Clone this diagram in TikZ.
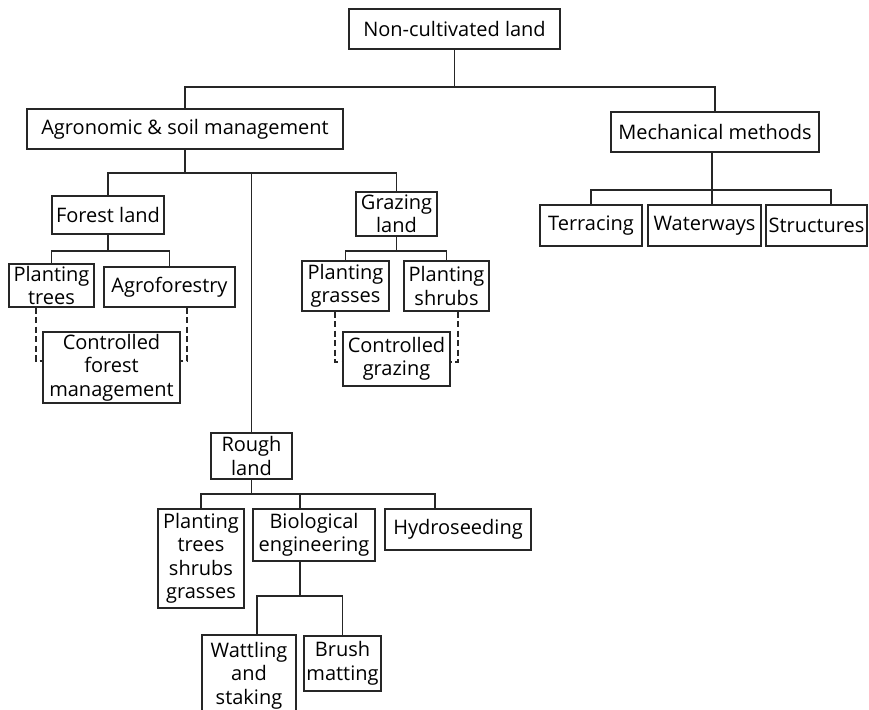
\documentclass[tikz,border=0pt]{standalone}
\usepackage{fontspec}
\setmainfont{Open Sans}
\usepackage{tikz}
\usetikzlibrary{positioning}

\begin{document}
\begin{tikzpicture}[
  x=1pt, y=-1pt,
  box/.style={draw=black!85, line width=1.2pt, inner sep=0pt, align=center,
    font=\fontsize{20}{23.5}\selectfont},
  link/.style={draw=black!85, line width=1.2pt},
  dlink/.style={link, dash pattern=on 6pt off 3.5pt},
]
  \useasboundingbox (0,0) rectangle (869,709);

  % Top levels
  \node[box, minimum width=211, minimum height=40] (root) at (454.5,29) {Non-cultivated land};
  \node[box, minimum width=316, minimum height=40] (agro) at (185,129) {Agronomic \& soil management};
  \node[box, minimum width=208, minimum height=40] (mech) at (715,132) {Mechanical methods};

  % Mechanical methods
  \node[box, minimum width=102, minimum height=41] (terr) at (591,225.5) {Terracing};
  \node[box, minimum width=113, minimum height=41] (water) at (704.5,225.5) {Waterways};
  \node[box, minimum width=101, minimum height=41] (struct) at (816.5,225.5) {Structures};

  % Forest land
  \node[box, minimum width=112, minimum height=38] (forest) at (108,215) {Forest land};
  \node[box, minimum width=85, minimum height=43] (ptrees) at (51.5,285.5) {Planting\\trees};
  \node[box, minimum width=131, minimum height=40] (agrof) at (169.5,287) {Agroforestry};
  \node[box, minimum width=137, minimum height=71] (cfm) at (111.5,367.5) {Controlled\\forest\\management};

  % Grazing land
  \node[box, minimum width=81, minimum height=44] (graz) at (396.5,214) {Grazing\\land};
  \node[box, minimum width=87, minimum height=50] (pgrass) at (345.5,286) {Planting\\grasses};
  \node[box, minimum width=85, minimum height=50] (pshrub) at (446.5,286) {Planting\\shrubs};
  \node[box, minimum width=107, minimum height=54] (cgraz) at (396.5,359) {Controlled\\grazing};

  % Rough land
  \node[box, minimum width=81, minimum height=46] (rough) at (251.5,456) {Rough\\land};
  \node[box, minimum width=86, minimum height=99] (ptsg) at (201,558.5) {Planting\\trees\\shrubs\\grasses};
  \node[box, minimum width=122, minimum height=52] (bio) at (314,535) {Biological\\engineering};
  \node[box, minimum width=146, minimum height=41] (hydro) at (458,529.5) {Hydroseeding};
  \node[box, minimum width=94, minimum height=81] (watt) at (249,675.5) {Wattling\\and\\staking};
  \node[box, minimum width=77, minimum height=55] (brush) at (342.5,663.5) {Brush\\matting};

  % Bar heights and off-centre joints
  \coordinate (bar0) at (0,87);
  \coordinate (bar1) at (0,173);
  \coordinate (bar2) at (0,251);
  \coordinate (bar3) at (0,190);
  \coordinate (bar4) at (0,494);
  \coordinate (bar5) at (0,596);
  \coordinate (mechout) at ([xshift=-3pt]mech.south);
  \coordinate (structin) at ([xshift=14.5pt]struct.north);
  \coordinate (bioin) at ([xshift=-14pt]bio.north);
  \coordinate (bioout) at ([xshift=-14pt]bio.south);
  \coordinate (hydroin) at ([xshift=-23pt]hydro.north);
  \coordinate (wattin) at ([xshift=8pt]watt.north);

  % Tree
  \draw[link] (root) -- (root |- bar0);
  \draw[link] (agro) |- (bar0 -| mech) -- (mech);
  \draw[link] (agro) -- (agro |- bar1);
  \draw[link] (forest) |- (bar1 -| graz) -- (graz);
  \draw[link] (rough |- bar1) -- (rough);
  \draw[link] (forest) -- (forest |- bar2);
  \draw[link] (ptrees) |- (bar2 -| agrof) -- (agrof);
  \draw[link] (graz) -- (graz |- bar2);
  \draw[link] (pgrass) |- (bar2 -| pshrub) -- (pshrub);
  \draw[link] (mechout) -- (mechout |- water.north);
  \draw[link] (terr) |- (structin |- bar3) -- (structin);
  \draw[link] (rough) -- (rough |- bar4);
  \draw[link] (ptsg) |- (hydroin |- bar4) -- (hydroin);
  \draw[link] (bioin) -- (bioin |- bar4);
  \draw[link] (bioout) -- (bioout |- bar5);
  \draw[link] (wattin) |- (bar5 -| brush) -- (brush);

  % Dashed links
  \draw[dlink] ([xshift=-15.5pt]ptrees.south) |- ([yshift=6.5pt]cfm.west);
  \draw[dlink] ([xshift=17.5pt]agrof.south) |- ([yshift=6.5pt]cfm.east);
  \draw[dlink] ([xshift=-10.5pt]pgrass.south) |- ([yshift=-3pt]cgraz.west);
  \draw[dlink] ([xshift=11.5pt]pshrub.south) |- ([yshift=-3pt]cgraz.east);
\end{tikzpicture}
\end{document}
